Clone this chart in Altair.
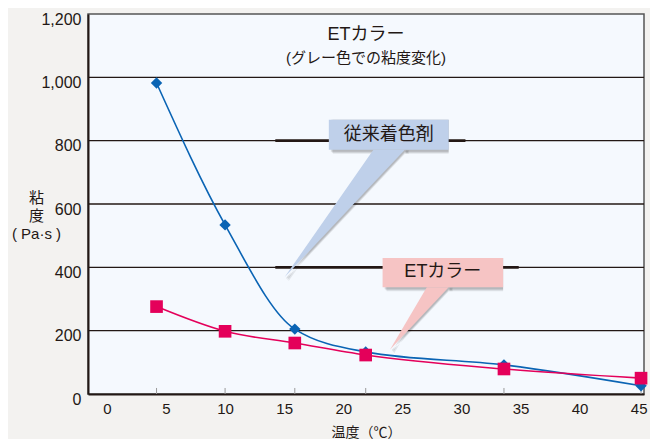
import altair as alt
import pandas as pd

# ---- data ----
temps = [4.2, 10.0, 15.9, 21.9, 33.6, 45.2]          # x positions of measurements (axis-label units)
conventional = [982, 534, 205, 133, 92, 26]          # 従来着色剤 viscosity (Pa·s)
et_color = [276, 198, 161, 123, 79, 50]              # ETカラー viscosity (Pa·s)
x_tick_labels = [0, 5, 10, 15, 20, 25, 30, 35, 40, 45]
y_tick_labels = [0, 200, 400, 600, 800, 1000, 1200]
grid_values = [200, 400, 600, 800, 1000]

FONT = "Liberation Sans, Noto Sans CJK JP"
INK = "#231815"
BLUE = "#0a64b4"
RED = "#e4005a"

df = pd.DataFrame({"t": temps, "conv": conventional, "et": et_color})

xscale = alt.Scale(domain=[-1.6, 45.45], nice=False, zero=False)
yscale = alt.Scale(domain=[0, 1200], nice=False)

xaxis = alt.Axis(
    values=x_tick_labels, title="温度（℃）", ticks=False, grid=False,
    labelFontSize=15, labelColor=INK, labelPadding=7, labelFont=FONT,
    domainColor=INK, domainWidth=2,
    titleFont=FONT, titleFontSize=14, titleFontWeight="normal", titleColor=INK,
    titleY=38, titleBaseline="middle",
)
yaxis = alt.Axis(
    values=y_tick_labels, labelExpr="format(datum.value, ',d')",
    title=["粘", "度", "( Pa·s )"], ticks=False,
    grid=False, labelFontSize=16, labelColor=INK, labelPadding=7, labelOffset=5,
    labelFont=FONT, domainColor=INK, domainWidth=2,
    titleFont=FONT, titleFontSize=15, titleFontWeight="normal", titleColor=INK,
    titleAngle=0, titleX=-52, titleY=176, titleAlign="center", titleBaseline="top",
    titleLineHeight=18,
)

X = lambda f="t": alt.X(f"{f}:Q", scale=xscale, axis=xaxis)
Y = lambda f: alt.Y(f"{f}:Q", scale=yscale, axis=yaxis)

# gridlines
grid = alt.Chart(pd.DataFrame({"g": grid_values})).mark_rule(color=INK, strokeWidth=1.3).encode(
    y=Y("g")
)

# thicker segments on gridlines behind callouts
seg_df = pd.DataFrame({"x1": [14.25, 14.25], "x2": [30.34, 34.85], "yv": [800, 400]})
segs = alt.Chart(seg_df).mark_rule(color=INK, strokeWidth=2.6).encode(
    x=X("x1"), x2="x2:Q", y=Y("yv")
)

# small ticks at measurement temperatures
tick_df = pd.DataFrame({"t": temps, "y0": [0] * len(temps), "y1": [19] * len(temps)})
ticks = alt.Chart(tick_df).mark_rule(color="#9a9a9a", strokeWidth=1).encode(
    x=X(), y=Y("y0"), y2="y1:Q"
)

# callouts
def pointer(bl, br, tip):
    # triangle with top edge (bl -> br) and apex tip, as an area over x
    (xl, yb), (xr, _), (xt, yt) = bl, br, tip
    yr_at_xl = yt + (xl - xt) / (xr - xt) * (yb - yt)
    return pd.DataFrame({"x": [xt, xl, xr], "y": [yt, yb, yb], "y2": [yt, yr_at_xl, yb]})

callouts = []
boxes = [
    dict(x1=18.78, x2=28.92, y1=771.5, y2=866.2, color="#bfd0ea", label="従来着色剤",
         tx=23.85, ty=819, ptr=pointer((22.55, 771.5), (25.21, 771.5), (15.03, 368.5))),
    dict(x1=23.33, x2=33.53, y1=336.9, y2=429.5, color="#f6c4c4", label="ETカラー",
         tx=28.43, ty=384, ptr=pointer((27.07, 336.9), (28.92, 336.9), (23.95, 139.9))),
]
for b in boxes:
    bdf = pd.DataFrame([{k: b[k] for k in ("x1", "x2", "y1", "y2")}])
    for off, op in [(4, 0.08), (3, 0.10), (2, 0.10)]:
        callouts.append(alt.Chart(b["ptr"]).mark_area(color="#000", opacity=op, xOffset=off, yOffset=off)
                        .encode(x=X("x"), y=Y("y"), y2="y2:Q"))
        callouts.append(alt.Chart(bdf).mark_rect(color="#000", opacity=op, xOffset=off, yOffset=off)
                        .encode(x=X("x1"), x2="x2:Q", y=Y("y1"), y2="y2:Q"))
    callouts.append(alt.Chart(b["ptr"]).mark_area(color=b["color"], opacity=1)
                    .encode(x=X("x"), y=Y("y"), y2="y2:Q"))
    callouts.append(alt.Chart(bdf).mark_rect(color=b["color"])
                    .encode(x=X("x1"), x2="x2:Q", y=Y("y1"), y2="y2:Q"))
    callouts.append(alt.Chart(pd.DataFrame({"x": [b["tx"]], "y": [b["ty"]], "s": [b["label"]]}))
                    .mark_text(font=FONT, fontSize=18, color=INK, baseline="middle", align="center")
                    .encode(x=X("x"), y=Y("y"), text="s:N"))

# title inside plot
titles = alt.Chart(pd.DataFrame({
    "x": [21.93, 21.93], "y": [1135, 1062], "s": ["ETカラー", "(グレー色での粘度変化)"], "fs": [18, 15]
})).mark_text(font=FONT, color=INK, baseline="middle", align="center").encode(
    x=X("x"), y=Y("y"), text="s:N", size=alt.Size("fs:Q", scale=None, legend=None)
)

# series
blue_line = alt.Chart(df).mark_line(color=BLUE, strokeWidth=1.6, interpolate="monotone").encode(
    x=X(), y=Y("conv")
)
blue_pts = alt.Chart(df).mark_point(shape="diamond", filled=True, size=130, color=BLUE, opacity=1).encode(
    x=X(), y=Y("conv")
)
red_line = alt.Chart(df).mark_line(color=RED, strokeWidth=1.6, interpolate="monotone").encode(
    x=X(), y=Y("et")
)
red_pts = alt.Chart(df).mark_point(shape="square", filled=True, size=160, color=RED, opacity=1).encode(
    x=X(), y=Y("et")
)

chart = alt.layer(
    grid, segs, ticks, *callouts, titles, blue_line, blue_pts, red_line, red_pts
).properties(
    width=556, height=380,
    autosize=alt.AutoSizeParams(type="none"),
    padding={"left": 80, "top": 6, "right": 6, "bottom": 45},
    background="#f3f2f0",
).configure_view(
    fill="#f5f9fe", stroke="#555555", strokeWidth=1.5
)

chart.save("out.html", embed_options={"renderer": "svg", "actions": False})
